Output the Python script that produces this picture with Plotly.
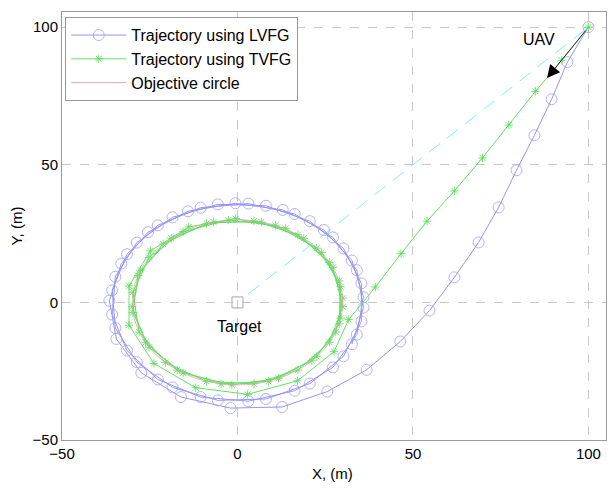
import plotly.graph_objects as go

# LVFG trajectory: approach leg from the UAV, then loops around r~36
lvfg_x = [100, 94.0, 89.5, 84.6, 79.5, 74.4, 68.7, 61.8, 54.7, 46.4, 36.8, 25.6, 12.7,
          -2.0, -16.1, -27.4, -34.5, -36.5, -33.1, -25.5, -14.1, -0.6, 12.9, 24.6, 32.6, 35.9,
          34.0, 27.2, 16.3, 3.1, -10.5, -22.7, -31.5, -35.7, -34.8, -28.7, -18.5, -5.6, 8.1,
          20.6, 30.2, 35.3, 35.3, 30.2, 20.6, 8.1, -5.6, -18.5, -28.7, -34.8, -35.7, -31.5,
          -22.7, -10.5, 3.1, 16.3, 27.2, 34.0, 35.9, 32.6]
lvfg_y = [100, 87.3, 73.8, 60.7, 48.0, 34.5, 21.8, 9.1, -3.0, -14.2, -24.5, -32.4, -38.0,
          -38.4, -34.4, -25.6, -13.3, 0.6, 14.1, 25.5, 33.1, 36.0, 33.6, 26.3, 15.2, 1.9,
          -11.7, -23.6, -32.1, -35.9, -34.4, -28.0, -17.5, -4.4, 9.3, 21.7, 30.9, 35.6, 35.1,
          29.5, 19.6, 6.9, -6.9, -19.6, -29.5, -35.1, -35.6, -30.9, -21.7, -9.3, 4.4, 17.5,
          28.0, 34.4, 35.9, 32.1, 23.6, 11.7, -1.9, -15.2]

# TVFG trajectory: straight leg, then converging onto the objective circle
tvfg_x = [100, 92.4, 84.9, 77.3, 69.8, 61.8, 54.0, 46.6, 39.3, 31.7,
          27.5, 17.1, 2.9, -11.9, -23.8, -30.9, -30.9, -24.8, -13.9, -0.5, 13.7, 24.0, 29.4,
          29.0, 22.6, 11.7, -1.6, -15.5, -25.2, -29.8, -28.4, -21.2, -8.8, 4.7, 17.2, 26.2, 30.0,
          28.0, 21.2, 8.8, -4.7, -17.2, -26.2, -30.0, -27.6, -18.9, -6.8, 6.8, 18.9, 27.2, 30.0,
          26.2, 17.2, 4.7, -8.8, -20.5, -28.0, -29.8, -25.2, -15.5, -2.6, 10.8, 22.6, 29.0, 29.4]
tvfg_y = [100, 88.0, 76.7, 64.4, 52.5, 40.5, 29.5, 17.7, 5.6, -6.2,
          -17.9, -28.5, -33.4, -31.0, -22.2, -8.3, 6.0, 18.7, 27.4, 30.4, 26.9, 18.1, 5.7,
          -7.8, -19.7, -27.6, -30.0, -25.7, -16.3, -3.7, 9.8, 21.2, 28.7, 29.6, 24.6, 14.5, 1.6,
          -10.8, -21.2, -28.7, -29.6, -24.6, -14.5, -1.6, 11.7, 23.3, 29.2, 29.2, 23.3, 12.7, -1.6,
          -14.5, -24.6, -29.6, -28.7, -21.9, -10.8, 3.7, 16.3, 25.7, 29.9, 28.0, 19.7, 7.8, -5.7]

# line of sight target -> UAV
los_x = [3, 100]
los_y = [3, 100]

target_x = [0]
target_y = [0]

objective_center = (0, 0)
objective_radius = 30

fig = go.Figure()

fig.add_trace(go.Scatter(
    x=los_x, y=los_y, mode="lines",
    line=dict(color="#7ff0f0", width=1, dash="14px,9px"),
    showlegend=False, hoverinfo="skip",
))
fig.add_trace(go.Scatter(
    x=lvfg_x, y=lvfg_y, mode="lines+markers",
    name="Trajectory using LVFG",
    line=dict(color="#9595f5", width=1),
    marker=dict(symbol="circle-open", size=11, color="#a0a0f5", line=dict(width=0.8)),
))
fig.add_trace(go.Scatter(
    x=tvfg_x, y=tvfg_y, mode="lines+markers",
    name="Trajectory using TVFG",
    line=dict(color="#66e066", width=1),
    marker=dict(symbol="asterisk-open", size=7, color="#55dd55", line=dict(width=0.8, color="#55dd55")),
))
# legend entry for the objective circle (drawn as a shape)
fig.add_trace(go.Scatter(
    x=[None], y=[None], mode="lines", name="Objective circle",
    line=dict(color="#e8a0b4", width=1),
))
fig.add_trace(go.Scatter(
    x=target_x, y=target_y, mode="markers",
    marker=dict(symbol="square-open", size=11, color="#a8a8a8", line=dict(width=1)),
    showlegend=False, hoverinfo="skip",
))

cx, cy = objective_center
fig.add_shape(
    type="circle", xref="x", yref="y",
    x0=cx - objective_radius, x1=cx + objective_radius,
    y0=cy - objective_radius, y1=cy + objective_radius,
    line=dict(color="#e8a0b4", width=0.8),
    layer="above",
)

fig.add_annotation(x=88.2, y=81.5, ax=99.5, ay=99.2, xref="x", yref="y",
                   axref="x", ayref="y", text="", showarrow=True,
                   arrowhead=2, arrowsize=3.2, arrowwidth=0.8, arrowcolor="black")
fig.add_annotation(x=85.8, y=95.6, text="UAV", showarrow=False,
                   font=dict(size=16, color="black"))
fig.add_annotation(x=0.6, y=-8.7, text="Target", showarrow=False,
                   font=dict(size=16, color="black"))
# x axis title placed by hand (closer to the tick labels than plotly's default)
fig.add_annotation(x=0.498, y=0, xref="paper", yref="paper", yshift=-33,
                   text="X, (m)", showarrow=False, yanchor="middle",
                   font=dict(size=15, color="black"))

axis_style = dict(
    tickvals=[-50, 0, 50, 100],
    showgrid=True, gridcolor="#c8c8c8", griddash="dash", gridwidth=1,
    zeroline=False, showline=True, mirror=True, linecolor="#9a9a9a", linewidth=1,
    ticks="", tickfont=dict(size=15, color="black"), automargin=False,
)
fig.update_xaxes(range=[-50, 105], **axis_style)
fig.update_yaxes(range=[-50, 105.5], title=dict(text="Y, (m)", font=dict(size=15, color="black")), **axis_style)

# the page body adds an 8px offset, so the figure is sized 8px smaller
fig.update_layout(
    width=608, height=485,
    margin=dict(l=54, r=10, t=4, b=53),
    paper_bgcolor="white", plot_bgcolor="white",
    font=dict(family="Arial, Liberation Sans, sans-serif", size=15, color="black"),
    legend=dict(x=0.006, y=0.988, xanchor="left", yanchor="top",
                bgcolor="white", bordercolor="#999999", borderwidth=1,
                font=dict(size=16), itemwidth=55, tracegroupgap=0),
)

fig.write_html("out.html")
